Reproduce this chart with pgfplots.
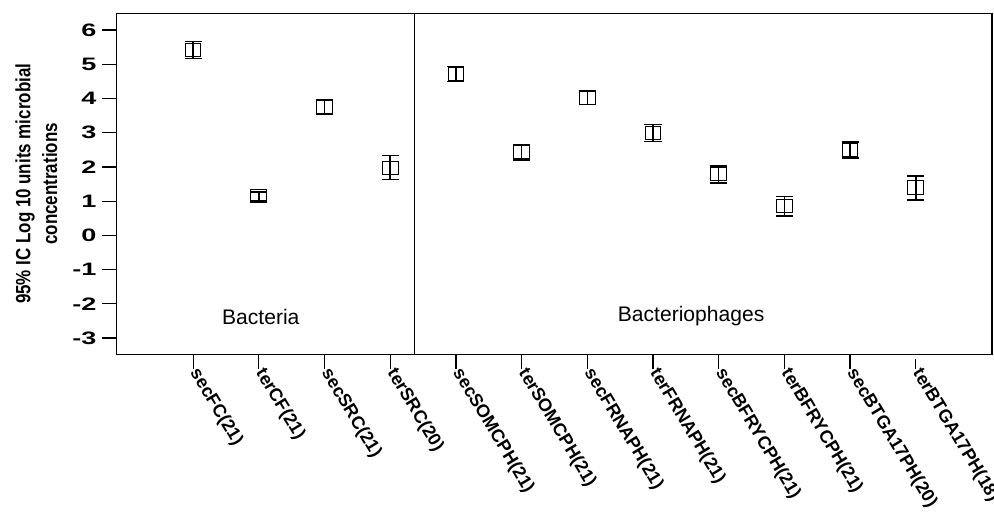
\documentclass[border=0pt]{standalone}
\usepackage{fontspec}
\setmainfont{Liberation Sans}
\newfontfamily\tickfont{Liberation Sans}[FakeStretch=1.5]
\newfontfamily\ylabfont{Liberation Sans}[FakeStretch=0.82]
\usepackage{pgfplots}
\usepackage{pgfplotstable}
\pgfplotsset{compat=1.18}

\pgfplotstableread{
x y ep em
0 5.41 0.25 0.24
1 1.14 0.13 0.14
2 3.76 0.21 0.22
3 1.98 0.36 0.35
4 4.71 0.22 0.22
5 2.44 0.22 0.24
6 4.03 0.19 0.20
7 3.00 0.24 0.26
8 1.79 0.24 0.26
9 0.85 0.29 0.29
10 2.49 0.24 0.23
11 1.40 0.34 0.37
}\datatable

\begin{document}
\begin{tikzpicture}
\begin{axis}[
  scale only axis,
  width=656.25pt, height=255.75pt,
  xmin=-1.163, xmax=12.16, ymin=-3.48, ymax=6.49,
  axis line style={black, line width=0.9pt},
  tick align=outside,
  major tick length=11pt,
  xtick pos=left, ytick pos=left,
  xtick={0,1,2,3,4,5,6,7,8,9,10,11},
  xticklabels={secFC(21),terCF(21),secSRC(21),terSRC(20),secSOMCPH(21),terSOMCPH(21),secFRNAPH(21),terFRNAPH(21),secBFRYCPH(21),terBFRYCPH(21),secBTGA17PH(20),terBTGA17PH(18)},
  ytick={-3,-2,-1,0,1,2,3,4,5,6},
  yticklabels={-3,-2,-1,0,1,2,3,4,5,6},
  x tick label style={font=\bfseries\fontsize{13.5}{13.5}\selectfont, rotate=-59, anchor=west, inner sep=1pt},
  y tick label style={font=\tickfont\bfseries\fontsize{13.5}{13}\selectfont, inner sep=4pt},
  xtick style={black, line width=0.9pt, shorten >=3.75pt},
  ytick style={black, line width=0.9pt},
  ylabel={95\% IC Log 10 units microbial\\concentrations},
  ylabel style={font=\ylabfont\bfseries\fontsize{15.5}{20}\selectfont, align=center, at={(axis description cs:-0.0917,0.5)}, anchor=center},
  clip=false,
]
\addplot[only marks, black, mark=square, mark size=4.9pt,
  mark options={xscale=1.2, line width=0.7pt, fill=none},
  error bars/.cd, y dir=both, y explicit,
  error bar style={line width=1.1pt, black},
  error mark options={rotate=90, mark size=6.4pt, line width=1.1pt}]
  table[x=x, y=y, y error plus=ep, y error minus=em] {\datatable};
\draw[black, line width=0.9pt] (axis cs:3.374,-3.48) -- (axis cs:3.374,6.49);
\node[font=\fontsize{15.8}{16}\selectfont] at (axis cs:1.03,-2.37) {Bacteria};
\node[font=\fontsize{15.8}{16}\selectfont] at (axis cs:7.58,-2.37) {Bacteriophages};
\end{axis}
\pgfresetboundingbox
\path[use as bounding box] ([xshift=-87.5pt, yshift=10pt]current axis.north west) rectangle ([xshift=1.5pt, yshift=-118.5pt]current axis.south east);
\end{tikzpicture}
\end{document}
